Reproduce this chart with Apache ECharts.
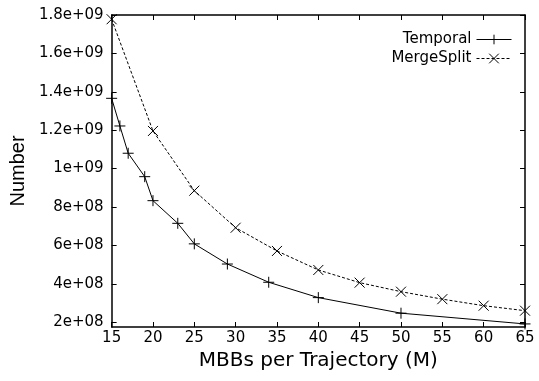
<!DOCTYPE html>
<html>
<head>
<meta charset="utf-8">
<script src="https://cdn.jsdelivr.net/npm/echarts@6/dist/echarts.min.js"></script>
<style>
html,body{margin:0;padding:0;background:#fff;}
#chart{width:539px;height:381px;}
</style>
</head>
<body>
<div id="chart"></div>
<script>
const temporalX = [15, 16, 17, 19, 20, 23, 25, 29, 34, 40, 50, 65];
const temporalY = [1.366e9, 1.222e9, 1.080e9, 9.58e8, 8.33e8, 7.15e8, 6.08e8, 5.03e8, 4.08e8, 3.28e8, 2.47e8, 1.91e8];
const mergeX = [15, 20, 25, 30, 35, 40, 45, 50, 55, 60, 65];
const mergeY = [1.778e9, 1.196e9, 8.85e8, 6.92e8, 5.71e8, 4.72e8, 4.06e8, 3.59e8, 3.20e8, 2.86e8, 2.60e8];
const yTickValues = [2e8, 4e8, 6e8, 8e8, 1e9, 1.2e9, 1.4e9, 1.6e9, 1.8e9];
const yTickLabels = ['2e+08', '4e+08', '6e+08', '8e+08', '1e+09', '1.2e+09', '1.4e+09', '1.6e+09', '1.8e+09'];
const seriesNames = ['Temporal', 'MergeSplit'];

const yLabelMap = {};
yTickValues.forEach((v, i) => { yLabelMap[v] = yTickLabels[i]; });

const chart = echarts.init(document.getElementById('chart'));
const axisLine = { show: true, lineStyle: { color: '#000', width: 1.5 } };
const tick = { show: true, inside: true, length: 5, lineStyle: { color: '#000', width: 1 } };
const plusPath = 'path://M0,5L10,5M5,0L5,10';
const crossPath = 'path://M0,0L10,10M10,0L0,10';
const markStyle = { color: 'transparent', borderColor: '#000', borderWidth: 1 };

chart.setOption({
  animation: false,
  backgroundColor: '#fff',
  textStyle: { fontFamily: 'DejaVu Sans', color: '#000' },
  grid: { left: 108, right: 14, top: 15, bottom: 54, containLabel: false },
  legend: {
    orient: 'vertical',
    right: 27,
    top: 32,
    padding: 0,
    align: 'right',
    itemWidth: 35,
    itemHeight: 12,
    itemGap: 4,
    lineStyle: { width: 1 },
    itemStyle: { borderWidth: 1 },
    textStyle: { fontFamily: 'DejaVu Sans', fontSize: 15, color: '#000' },
    data: seriesNames
  },
  xAxis: [
    {
      type: 'value', min: 15, max: 65, interval: 5,
      axisLine: axisLine, axisTick: tick, splitLine: { show: false },
      axisLabel: { color: '#000', fontSize: 15, fontFamily: 'DejaVu Sans', margin: 4 },
      name: 'MBBs per Trajectory (M)', nameLocation: 'middle', nameGap: 24,
      nameTextStyle: { fontSize: 20, fontFamily: 'DejaVu Sans', color: '#000' }
    },
    {
      type: 'value', position: 'top', min: 15, max: 65, interval: 5,
      axisLine: axisLine, axisTick: tick, splitLine: { show: false },
      axisLabel: { show: false }
    }
  ],
  yAxis: [
    {
      type: 'value', min: 1.75e8, max: 1.8e9,
      axisLine: axisLine,
      axisTick: Object.assign({ customValues: yTickValues }, tick),
      splitLine: { show: false },
      axisLabel: {
        customValues: yTickValues, color: '#000', fontSize: 15, fontFamily: 'DejaVu Sans', margin: 8,
        formatter: v => yLabelMap[v] !== undefined ? yLabelMap[v] : ''
      },
      name: 'Number', nameLocation: 'middle', nameGap: 77, nameRotate: 90,
      nameTextStyle: { fontSize: 20, fontFamily: 'Liberation Sans', color: '#000' }
    },
    {
      type: 'value', position: 'right', min: 1.75e8, max: 1.8e9,
      axisLine: axisLine,
      axisTick: Object.assign({ customValues: yTickValues }, tick),
      splitLine: { show: false },
      axisLabel: { show: false }
    }
  ],
  series: [
    {
      name: seriesNames[0], type: 'line',
      data: temporalX.map((x, i) => [x, temporalY[i]]),
      symbol: plusPath, symbolSize: 11, showSymbol: true,
      itemStyle: markStyle,
      lineStyle: { color: '#000', width: 1, type: 'solid' },
      clip: false
    },
    {
      name: seriesNames[1], type: 'line',
      data: mergeX.map((x, i) => [x, mergeY[i]]),
      symbol: crossPath, symbolSize: 10, showSymbol: true,
      itemStyle: markStyle,
      lineStyle: { color: '#000', width: 1, type: [3, 2] },
      clip: false
    }
  ]
});
</script>
</body>
</html>
